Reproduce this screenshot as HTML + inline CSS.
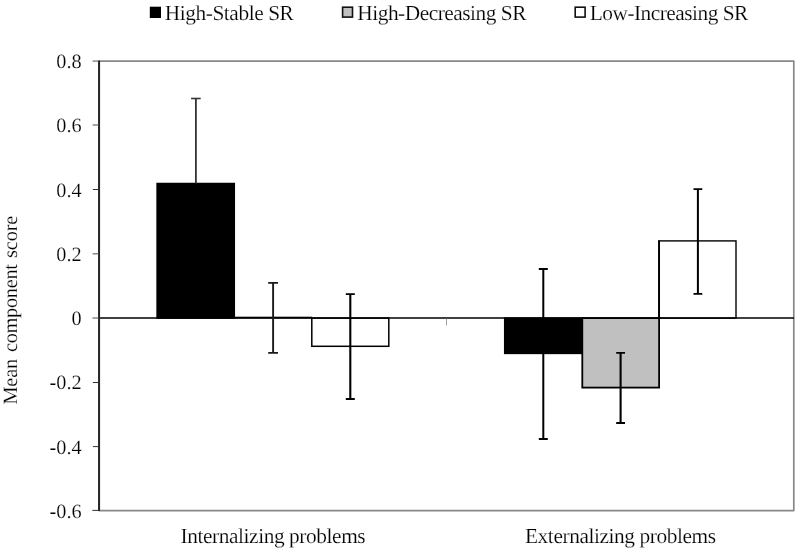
<!DOCTYPE html>
<html lang="en">
<head>
<meta charset="utf-8">
<title>Mean component score</title>
<style>
html,body{margin:0;padding:0;background:#fff;}
body{width:798px;height:553px;overflow:hidden;}
svg{display:block;filter:grayscale(1);}
text{font-family:"Liberation Serif","Times New Roman",serif;font-size:20.3px;fill:#000;stroke:#fff;stroke-width:0.18px;text-rendering:geometricPrecision;}
.big{font-size:21.33px;letter-spacing:-0.41px;}
</style>
</head>
<body>
<svg width="798" height="553" viewBox="0 0 798 553">
<rect x="0" y="0" width="798" height="553" fill="#ffffff"/>

<!-- legend -->
<rect x="150.6" y="7.5" width="9.6" height="9.7" fill="#000" stroke="#000" stroke-width="1.6"/>
<rect x="342.6" y="7.2" width="9.9" height="9.9" fill="#c0c0c0" stroke="#111" stroke-width="1.6"/>
<rect x="575.2" y="7.2" width="9.9" height="9.9" fill="#fff" stroke="#111" stroke-width="1.6"/>
<g>
<text class="big" x="164.7" y="19.6">High-Stable SR</text>
<text class="big" x="357.3" y="19.6" style="letter-spacing:-0.47px">High-Decreasing SR</text>
<text class="big" x="589.8" y="19.6" style="letter-spacing:-0.5px">Low-Increasing SR</text>
</g>

<!-- plot border -->
<rect x="99.2" y="61.1" width="694.6" height="449.5" fill="none" stroke="#888" stroke-width="1.7" stroke-linejoin="round"/>

<!-- bars -->
<g stroke="#000" stroke-width="1.5">
<rect x="157.1" y="183.5" width="77.2" height="134.6" fill="#000"/>
<rect x="234.7" y="317.2" width="77.0" height="0.8" fill="#000" stroke-width="1.0"/>
<rect x="311.8" y="318.1" width="77.0" height="28.2" fill="#fff"/>
<rect x="504.7" y="318.1" width="77.5" height="35.3" fill="#000"/>
<rect x="582.3" y="318.1" width="76.8" height="69.5" fill="#c0c0c0" stroke-width="1.8"/>
<rect x="659.2" y="240.9" width="76.8" height="77.2" fill="#fff" stroke-width="1.4"/>
<line x1="659.0" y1="240.2" x2="659.0" y2="318" stroke-width="1.8"/>
</g>

<!-- zero line -->
<line x1="99" y1="318.0" x2="794" y2="318.0" stroke="#000" stroke-width="1.7"/>
<line x1="446.5" y1="318.1" x2="446.5" y2="325.5" stroke="#777" stroke-width="0.7"/>

<!-- error bars -->
<g fill="none">
<path d="M195.9 98.5V183.5" stroke="#333" stroke-width="1.8"/>
<path d="M191.1 98.5H200.7" stroke="#333" stroke-width="1.6"/>
<path d="M273.1 282.9V352.9" stroke="#1a1a1a" stroke-width="1.9"/>
<path d="M268.2 282.9H278.0M268.2 352.9H278.0" stroke="#1a1a1a" stroke-width="1.8"/>
<path d="M350.3 294.1V399.0" stroke="#000" stroke-width="2.1"/>
<path d="M345.8 294.1H354.8M345.8 399.0H354.8" stroke="#000" stroke-width="1.8"/>
<path d="M543.3 269.0V439.0" stroke="#000" stroke-width="2.0"/>
<path d="M538.8 269.0H547.8M538.8 439.0H547.8" stroke="#000" stroke-width="1.8"/>
<path d="M620.6 352.9V423.0" stroke="#000" stroke-width="2.1"/>
<path d="M616.2 352.9H625.0M616.2 423.0H625.0" stroke="#000" stroke-width="1.9"/>
<path d="M697.9 189.1V293.9" stroke="#000" stroke-width="2.0"/>
<path d="M693.5 189.1H702.3M693.5 293.9H702.3" stroke="#000" stroke-width="1.9"/>
</g>

<!-- y axis -->
<line x1="99.05" y1="60.4" x2="99.05" y2="511.1" stroke="#262626" stroke-width="2"/>
<g stroke="#777" stroke-width="1.3">
<line x1="92.6" y1="61.1" x2="98.2" y2="61.1"/>
<line x1="92.6" y1="125.0" x2="98.2" y2="125.0"/>
<line x1="92.6" y1="253.8" x2="98.2" y2="253.8"/>
<line x1="92.4" y1="318.0" x2="98.2" y2="318.0"/>
</g>
<g stroke="#333" stroke-width="1">
<line x1="92.9" y1="189.5" x2="98.2" y2="189.5"/>
<line x1="92.9" y1="382.5" x2="98.2" y2="382.5"/>
<line x1="92.9" y1="446.6" x2="98.2" y2="446.6"/>
<line x1="92.3" y1="510.4" x2="98.2" y2="510.4"/>
</g>

<!-- y labels -->
<g text-anchor="end" class="big" style="letter-spacing:0.05px">
<text x="81.8" y="68.0">0.8</text>
<text x="81.8" y="132.2">0.6</text>
<text x="81.8" y="196.5">0.4</text>
<text x="81.8" y="260.8">0.2</text>
<text x="81.8" y="325.0">0</text>
<text x="81.8" y="389.3">-0.2</text>
<text x="81.8" y="453.6">-0.4</text>
<text x="81.8" y="517.8">-0.6</text>
</g>

<!-- x labels -->
<g text-anchor="middle">
<text class="big" x="272.9" y="542.7">Internalizing problems</text>
<text class="big" x="620.3" y="542.7">Externalizing problems</text>
</g>

<!-- y title -->
<text transform="translate(17.4 404.6) rotate(-90)" style="letter-spacing:-0.12px">Mean <tspan dx="1.95" style="letter-spacing:-0.28px">component</tspan> <tspan dx="1.5">score</tspan></text>
</svg>
</body>
</html>
